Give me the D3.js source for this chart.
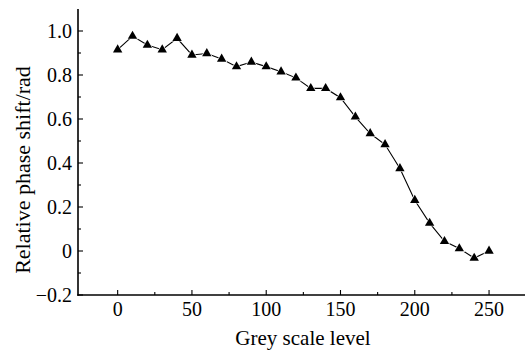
<!DOCTYPE html>
<html><head><meta charset="utf-8">
<script src="https://cdn.jsdelivr.net/npm/d3@7"></script>
<style>body{margin:0;background:#fff}svg{display:block}</style>
</head><body>
<svg id="c" width="525" height="350"></svg>
<script>
const greyLevels = [0,10,20,30,40,50,60,70,80,90,100,110,120,130,140,150,160,170,180,190,200,210,220,230,240,250];
const phaseShift = [0.915,0.977,0.936,0.915,0.967,0.891,0.898,0.873,0.838,0.859,0.838,0.815,0.787,0.739,0.739,0.697,0.61,0.534,0.484,0.375,0.231,0.127,0.044,0.011,-0.032,0.0];
const xTicks = [0,50,100,150,200,250];
const xMinor = [25,75,125,175,225];
const yTicks = [-0.2,0,0.2,0.4,0.6,0.8,1.0];
const yMinor = [-0.1,0.1,0.3,0.5,0.7,0.9];

const svg = d3.select("#c");
const L = 78, R = 525, T = 9, B = 295;
const x = d3.scaleLinear().domain([-26.7, 274.2]).range([L, R]);
const y = d3.scaleLinear().domain([-0.2, 1.1]).range([B, T]);
const font = "'Liberation Serif','Times New Roman',serif";

// line
const line = d3.line().x((d,i)=>x(greyLevels[i])).y(d=>y(d));
svg.append("path").datum(phaseShift).attr("d", line)
  .attr("fill","none").attr("stroke","#000").attr("stroke-width",1.1);

// markers
const tri = d3.symbol().type(d3.symbolTriangle).size(38);
svg.selectAll(".m").data(phaseShift).enter().append("path")
  .attr("d", tri)
  .attr("transform",(d,i)=>`translate(${x(greyLevels[i])},${y(d)})`)
  .attr("fill","#000").attr("stroke","#fff").attr("stroke-width",1.2)
  .attr("paint-order","stroke");

// axes lines
svg.append("line").attr("x1",L).attr("x2",L).attr("y1",T).attr("y2",B+0.75)
  .attr("stroke","#000").attr("stroke-width",1.6);
svg.append("line").attr("x1",L-0.75).attr("x2",R).attr("y1",B).attr("y2",B)
  .attr("stroke","#000").attr("stroke-width",1.6);

// x ticks
svg.selectAll(".xt").data(xTicks).enter().append("line")
  .attr("x1",d=>x(d)).attr("x2",d=>x(d)).attr("y1",B).attr("y2",B-5)
  .attr("stroke","#000").attr("stroke-width",1.1);
svg.selectAll(".xm").data(xMinor).enter().append("line")
  .attr("x1",d=>x(d)).attr("x2",d=>x(d)).attr("y1",B).attr("y2",B-3)
  .attr("stroke","#000").attr("stroke-width",1.1);
svg.selectAll(".xl").data(xTicks).enter().append("text")
  .attr("x",d=>x(d)).attr("y",B+21).attr("text-anchor","middle")
  .attr("font-family",font).attr("font-size",20).text(d=>d);

// y ticks
svg.selectAll(".yt").data(yTicks).enter().append("line")
  .attr("x1",L).attr("x2",L+5).attr("y1",d=>y(d)).attr("y2",d=>y(d))
  .attr("stroke","#000").attr("stroke-width",1.1);
svg.selectAll(".ym").data(yMinor).enter().append("line")
  .attr("x1",L).attr("x2",L+3).attr("y1",d=>y(d)).attr("y2",d=>y(d))
  .attr("stroke","#000").attr("stroke-width",1.1);
svg.selectAll(".yl").data(yTicks).enter().append("text")
  .attr("x",L-6).attr("y",d=>y(d)+7).attr("text-anchor","end")
  .attr("font-family",font).attr("font-size",20)
  .text(d=> d===0 ? "0" : (d<0 ? "\u2212" + Math.abs(d).toFixed(1) : d.toFixed(1)));

// titles
svg.append("text").attr("x",303).attr("y",345).attr("text-anchor","middle")
  .attr("font-family",font).attr("font-size",21).text("Grey scale level");
svg.append("text").attr("transform",`translate(30,170) rotate(-90)`)
  .attr("text-anchor","middle").attr("font-family",font).attr("font-size",22)
  .text("Relative phase shift/rad");
</script>
</body></html>
